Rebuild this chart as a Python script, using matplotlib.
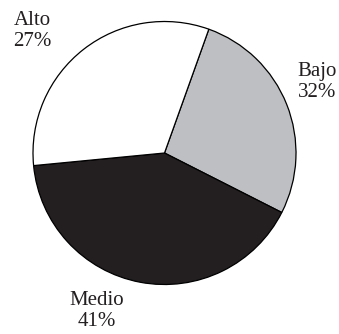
import matplotlib
matplotlib.use("Agg")
import matplotlib.pyplot as plt

# Data as drawn (slice shares) and printed labels
categories = ["Bajo", "Medio", "Alto"]
slice_shares = [27, 41, 32]
printed_pct = ["32%", "41%", "27%"]
colors = ["#bdbfc2", "#231f20", "#ffffff"]

W, H = 339, 334
fig = plt.figure(figsize=(W / 100, H / 100), dpi=100)
fig.patch.set_facecolor("white")

cx, cy, r = 164.5, 153.0, 131.5
ax = fig.add_axes([(cx - r) / W, 1 - (cy + r) / H, 2 * r / W, 2 * r / H])
ax.pie(slice_shares, colors=colors, startangle=70.3, counterclock=False,
       radius=1.0, wedgeprops=dict(edgecolor="black", linewidth=0.9))
ax.set_xlim(-1.0, 1.0)
ax.set_ylim(-1.0, 1.0)
ax.set_aspect("equal")
ax.axis("off")

label_pos = {"Bajo": (317, 82), "Medio": (97, 311), "Alto": (32, 31)}
for cat, pct in zip(categories, printed_pct):
    x, y = label_pos[cat]
    fig.text(x / W, 1 - y / H, f"{cat}\n{pct}", ha="center", va="center",
             multialignment="center", fontsize=15, family="Liberation Serif",
             color="#231f20", linespacing=1.2)

fig.savefig("out.png", dpi=100)
